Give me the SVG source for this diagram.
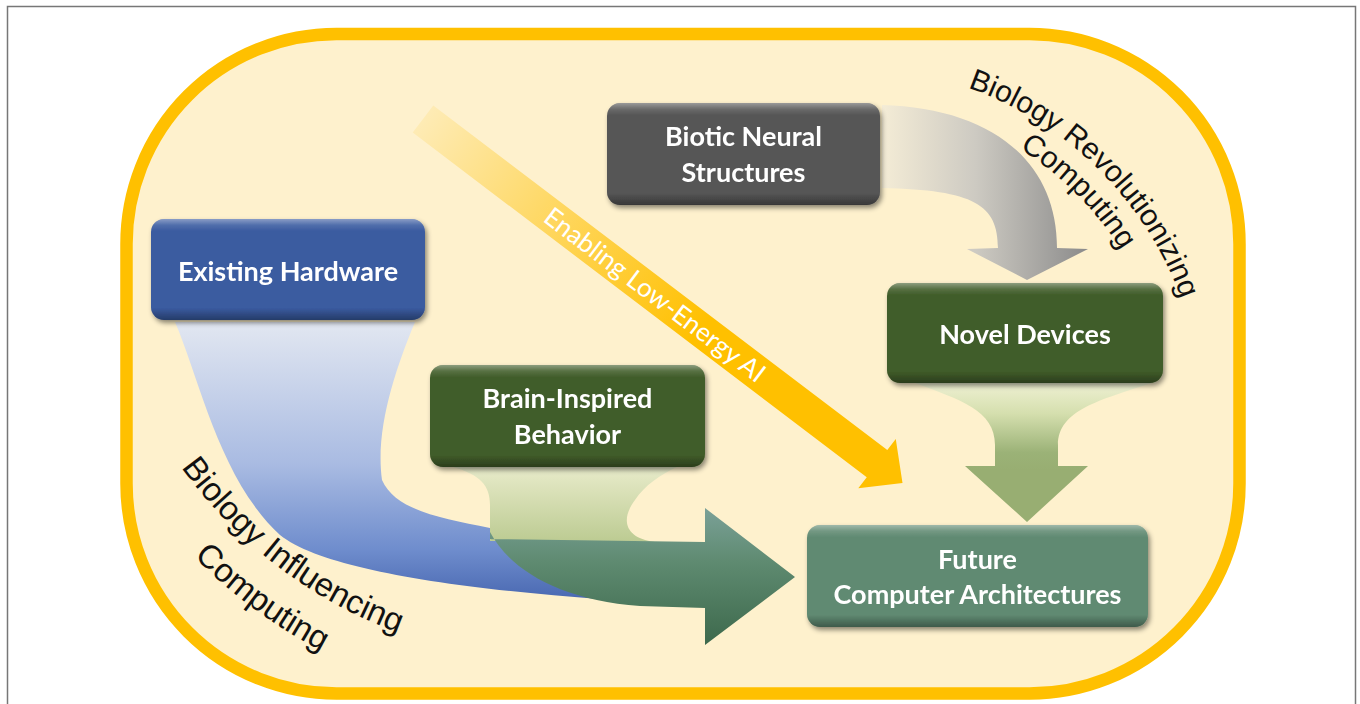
<svg xmlns="http://www.w3.org/2000/svg" width="1360" height="704" viewBox="0 0 1360 704">
  <style>
    .lbl { font-family: Lato, "Open Sans", sans-serif; font-weight: bold; font-size: 27px; fill: #ffffff; text-anchor: middle; }
    .arc { font-family: "Liberation Sans", Arial, sans-serif; font-size: 30px; fill: #111111; }
    .arc2 { font-family: "Liberation Sans", Arial, sans-serif; font-size: 33px; fill: #111111; }
    .band { font-family: Lato, "Open Sans", sans-serif; font-size: 26px; fill: #ffffff; text-anchor: middle; }
    .bevel { fill: url(#bevel); }
  </style>
  <defs>
    <filter id="shadow" x="-10%" y="-10%" width="125%" height="135%">
      <feDropShadow dx="2" dy="3" stdDeviation="2.5" flood-color="#000" flood-opacity="0.45"/>
    </filter>
    <linearGradient id="bevel" x1="0" y1="0" x2="0" y2="1">
      <stop offset="0" stop-color="#fff" stop-opacity="0.4"/>
      <stop offset="0.06" stop-color="#fff" stop-opacity="0.12"/>
      <stop offset="0.12" stop-color="#fff" stop-opacity="0"/>
      <stop offset="0.88" stop-color="#000" stop-opacity="0"/>
      <stop offset="1" stop-color="#000" stop-opacity="0.35"/>
    </linearGradient>
    <linearGradient id="gBlue" gradientUnits="userSpaceOnUse" x1="0" y1="322" x2="0" y2="606">
      <stop offset="0" stop-color="#e2e7f1"/>
      <stop offset="0.5" stop-color="#a9bbe2"/>
      <stop offset="0.8" stop-color="#6f8dcd"/>
      <stop offset="1" stop-color="#4564ae"/>
    </linearGradient>
    <linearGradient id="gGray" gradientUnits="userSpaceOnUse" x1="882" y1="0" x2="1090" y2="0">
      <stop offset="0" stop-color="#f4ecd6"/>
      <stop offset="0.45" stop-color="#cdcac2"/>
      <stop offset="1" stop-color="#8a8a8a"/>
    </linearGradient>
    <linearGradient id="gLight" gradientUnits="userSpaceOnUse" x1="0" y1="467" x2="0" y2="542">
      <stop offset="0" stop-color="#e8ebca"/>
      <stop offset="1" stop-color="#bccb92"/>
    </linearGradient>
    <linearGradient id="gDark" gradientUnits="userSpaceOnUse" x1="0" y1="508" x2="0" y2="645">
      <stop offset="0" stop-color="#7ba198"/>
      <stop offset="0.4" stop-color="#5e8a70"/>
      <stop offset="1" stop-color="#3d694c"/>
    </linearGradient>
    <linearGradient id="gNovel" gradientUnits="userSpaceOnUse" x1="0" y1="383" x2="0" y2="470">
      <stop offset="0" stop-color="#eef0d2"/>
      <stop offset="0.35" stop-color="#d5dfae"/>
      <stop offset="0.8" stop-color="#9bb277"/>
      <stop offset="1" stop-color="#98ae72"/>
    </linearGradient>
    <linearGradient id="gYellow" gradientUnits="userSpaceOnUse" x1="0" y1="0" x2="602" y2="0">
      <stop offset="0" stop-color="#ffc000" stop-opacity="0.12"/>
      <stop offset="0.25" stop-color="#ffc000" stop-opacity="0.5"/>
      <stop offset="0.58" stop-color="#ffc000" stop-opacity="1"/>
      <stop offset="1" stop-color="#ffc000" stop-opacity="1"/>
    </linearGradient>
    <path id="arcTR1" d="M 880.7 69.2 A 350 350 0 0 1 1200.5 385.7"/>
    <path id="arcTR2" d="M 879.5 102.2 A 317 317 0 0 1 1167.8 390.4"/>
    <path id="arcBL1" d="M 104.5 296.9 A 468 468 0 0 0 583.0 661.5"/>
    <path id="arcBL2" d="M 59.2 314.4 A 516 516 0 0 0 592.5 709.0"/>
  </defs>

  <rect x="7.5" y="6.5" width="1348" height="705" fill="#ffffff" stroke="#777777" stroke-width="1.5"/>
  <rect id="container" x="126.5" y="34" width="1113" height="659.5" rx="210" ry="210" fill="#fef1cd" stroke="#ffc000" stroke-width="12.5"/>

  <g id="connectors">
    <path id="c-hw" d="M 175 322 C 200 380 220 480 280 535 C 330 575 500 595 705 606 L 705 560 L 490 528 C 440 518 395 510 382 480 C 375 430 395 370 415 322 Z" fill="url(#gBlue)"/>
    <path id="c-brain-light" d="M 453 467 C 480 475 490 485 490 505 L 490 541 L 655 542 C 625 538 620 520 635 500 C 645 485 660 475 677 467 Z" fill="url(#gLight)"/>
    <path id="c-brain" d="M 490 532 C 510 570 560 600 640 606 L 705 608 L 705 645 L 795 577 L 705 508 L 705 542 L 490 539 Z" fill="url(#gDark)"/>
    <path id="c-biotic" d="M 882 105 C 990 108 1057 160 1057 248 L 1088 249 L 1027 280 L 967 249 L 998 248 C 998 205 975 190 882 188 Z" fill="url(#gGray)"/>
    <path id="c-novel" d="M 915 383 C 960 400 995 410 995 445 L 995 466 L 965 466 L 1027 522 L 1088 466 L 1058 466 L 1058 445 C 1058 410 1100 400 1152 383 Z" fill="url(#gNovel)"/>
    <g id="c-ai" transform="translate(423,119) rotate(37.2)">
      <path d="M 0 -17 L 570 -17 L 570 -31 L 602 0 L 570 31 L 570 17 L 0 17 Z" fill="url(#gYellow)"/>
      <text class="band" x="291" y="9">Enabling Low-Energy AI</text>
    </g>
  </g>

  <g id="node-hw" filter="url(#shadow)">
    <rect x="151" y="219" width="274" height="101" rx="13" fill="#3a5ba0"/>
    <rect x="151" y="219" width="274" height="101" rx="13" class="bevel"/>
    <text class="lbl" x="288" y="281">Existing Hardware</text>
  </g>
  <g id="node-biotic" filter="url(#shadow)">
    <rect x="607" y="103" width="273" height="102" rx="13" fill="#565656"/>
    <rect x="607" y="103" width="273" height="102" rx="13" class="bevel"/>
    <text class="lbl" x="743.5" y="146">Biotic Neural</text>
    <text class="lbl" x="743.5" y="182">Structures</text>
  </g>
  <g id="node-novel" filter="url(#shadow)">
    <rect x="887" y="283" width="276" height="100" rx="13" fill="#415d2a"/>
    <rect x="887" y="283" width="276" height="100" rx="13" class="bevel"/>
    <text class="lbl" x="1025" y="344">Novel Devices</text>
  </g>
  <g id="node-brain" filter="url(#shadow)">
    <rect x="430" y="365" width="275" height="102" rx="13" fill="#415d2a"/>
    <rect x="430" y="365" width="275" height="102" rx="13" class="bevel"/>
    <text class="lbl" x="567.5" y="408">Brain-Inspired</text>
    <text class="lbl" x="567.5" y="444">Behavior</text>
  </g>
  <g id="node-future" filter="url(#shadow)">
    <rect x="807" y="525" width="341" height="102" rx="13" fill="#608a72"/>
    <rect x="807" y="525" width="341" height="102" rx="13" class="bevel"/>
    <text class="lbl" x="977.5" y="569">Future</text>
    <text class="lbl" x="977.5" y="604">Computer Architectures</text>
  </g>

  <g id="label-revolutionizing">
    <text class="arc"><textPath href="#arcTR1" startOffset="50%" text-anchor="middle">Biology Revolutionizing</textPath></text>
    <text class="arc"><textPath href="#arcTR2" startOffset="50%" text-anchor="middle">Computing</textPath></text>
  </g>
  <g id="label-influencing">
    <text class="arc2"><textPath href="#arcBL1" startOffset="50%" text-anchor="middle">Biology Influencing</textPath></text>
    <text class="arc2"><textPath href="#arcBL2" startOffset="50%" text-anchor="middle">Computing</textPath></text>
  </g>
</svg>
